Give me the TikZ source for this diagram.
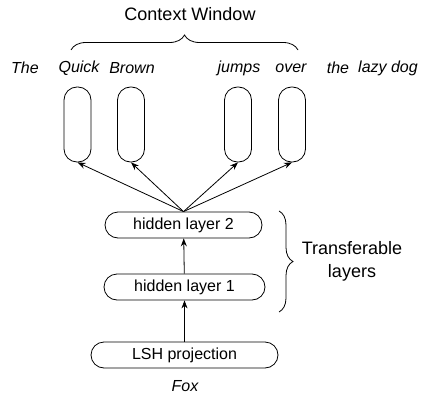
\documentclass[tikz,border=0pt]{standalone}
\usepackage{fontspec}
\setmainfont{Liberation Sans}
\usetikzlibrary{arrows.meta,decorations.pathreplacing}

\begin{document}
\begin{tikzpicture}[x=1pt,y=-1pt,line width=0.8pt,
    word/.style={font=\fontsize{16}{19}\selectfont\itshape},
    capsule/.style={draw,minimum width=27pt,minimum height=75pt,rounded corners=13pt,inner sep=0pt},
    layer/.style={draw,minimum height=26pt,rounded corners=13pt,inner sep=0pt,font=\fontsize{16}{19}\selectfont},
    big/.style={font=\fontsize{18}{23}\selectfont},
    link/.style={-{Stealth[length=8pt,width=6pt]}}]
    \useasboundingbox (0,0) rectangle (422,398);
    % context window on top
    \node[big] (ctx) at (190,14) {Context Window};
    \draw[decorate,decoration={brace,amplitude=15pt}] (71,50) -- (298,50);
    % input words
    \node[word] (wThe) at (25,68) {The};
    \node[word] (wQuick) at (79,68) {Quick};
    \node[word] (wBrown) at (132,68) {Brown};
    \node[word] (wJumps) at (239,68) {jumps};
    \node[word] (wOver) at (291,68) {over};
    \node[word] (wthe) at (338,68) {the};
    \node[word] (wLazy) at (388,68) {lazy dog};
    % output units
    \node[capsule] (c1) at (77.5,124.5) {};
    \node[capsule] (c2) at (131,124.5) {};
    \node[capsule] (c3) at (238,124.5) {};
    \node[capsule] (c4) at (292,124.5) {};
    % stacked layers
    \node[layer,minimum width=157pt] (hl2) at (183.5,225) {hidden layer 2};
    \node[layer,minimum width=161pt] (hl1) at (184.5,287) {hidden layer 1};
    \node[layer,minimum width=187pt] (lsh) at (184.5,355) {LSH projection};
    \node[word] (fox) at (185,386) {Fox};
    \draw[link] (lsh) -- (hl1);
    \draw[link] (hl1) -- (hl2);
    \foreach \c in {c1,c2,c3,c4}
        \draw[link] (hl2.north) -- (\c.south);
    % transferable part
    \draw[decorate,decoration={brace,amplitude=14pt}] (279,211) -- (279,312);
    \node[big,align=center] (trans) at (352,261) {Transferable\\layers};
\end{tikzpicture}
\end{document}
